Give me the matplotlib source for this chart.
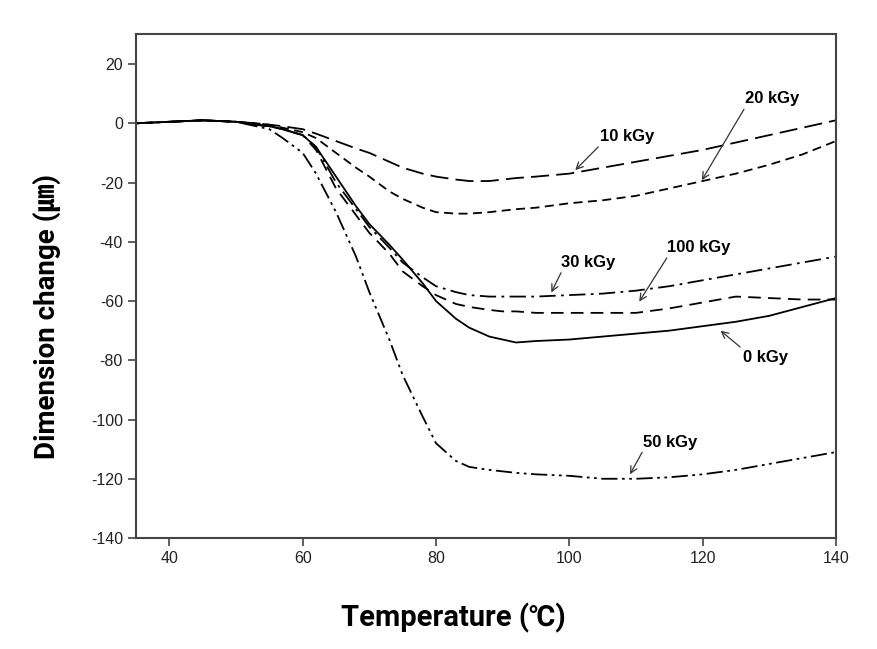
import matplotlib.pyplot as plt
import numpy as np

plt.rcParams['axes.unicode_minus'] = False

# temperatures (C) where each curve was read
temp = [35, 40, 45, 50, 53, 55, 57, 60, 62, 65, 68, 70, 73, 75, 78, 80, 83, 85, 88, 90, 92, 95, 100, 105, 110, 115, 120, 125, 130, 135, 140]

# dimension change (um) per dose
d0 = [0, 0.5, 1, 0.5, -0.5, -1, -2, -4, -8, -18, -28, -34, -41, -46, -54, -60, -66, -69, -72, -73, -74, -73.5, -73, -72, -71, -70, -68.5, -67, -65, -62, -59]
d10 = [0, 0.5, 1, 0.5, 0, -0.5, -1, -2, -3.5, -6, -8.5, -10, -13, -15, -17, -18, -19, -19.5, -19.5, -19, -18.5, -18, -17, -15, -13, -11, -9, -6.5, -4, -1.5, 1]
d20 = [0, 0.5, 1, 0.5, 0, -0.5, -1.5, -3, -5, -10, -15, -18, -23, -25.5, -28.5, -30, -30.5, -30.5, -30, -29.5, -29, -28.5, -27, -26, -24.5, -22, -19.5, -17, -14, -10.5, -6]
d30 = [0, 0.5, 1, 0.5, -0.5, -1, -2, -4, -8, -20, -29, -35, -42, -47, -52, -55, -57, -58, -58.5, -58.5, -58.5, -58.5, -58, -57.5, -56.5, -55, -53, -51, -49, -47, -45]
d50 = [0, 0.5, 1, 0.5, -1, -2, -5, -10, -17, -30, -45, -57, -73, -85, -99, -108, -114, -116, -117, -117.5, -118, -118.5, -119, -120, -120, -119.5, -118.5, -117, -115, -113, -111]
d100 = [0, 0.5, 1, 0.5, -0.5, -1, -2, -4, -9, -22, -31, -37, -44, -50, -55, -58, -61, -62, -63, -63.5, -63.5, -64, -64, -64, -64, -62.5, -60.5, -58.5, -59, -59.5, -59.5]

series = [
    (d0, '-'),
    (d10, (0, (10, 4))),
    (d20, (0, (5, 3))),
    (d30, (0, (9, 3, 1.5, 3))),
    (d50, (0, (9, 2.5, 1.5, 2.5, 1.5, 2.5))),
    (d100, (0, (7, 4))),
]

# label, text left/centre, arrow tip, where the arrow leaves the text
labels = [
    ('0 kGy', (126, -79), (122.7, -70), (0.02, 1.0)),
    ('10 kGy', (104.6, -4.5), (100.9, -15.8), (0.02, 0.0)),
    ('20 kGy', (126.3, 8.2), (119.9, -19.2), (0.02, 0.0)),
    ('30 kGy', (98.8, -47), (97.3, -57.1), (0.02, 0.0)),
    ('50 kGy', (111, -107.6), (109.1, -118.5), (0.02, 0.0)),
    ('100 kGy', (114.7, -42), (110.5, -60.2), (0.02, 0.0)),
]

fig = plt.figure(figsize=(8.78, 6.49), dpi=100)
ax = fig.add_axes([0.155, 0.171, 0.797, 0.776])

for y, ls in series:
    ax.plot(temp, y, color='black', linestyle=ls, linewidth=1.3)

for txt, pos, tip, rp in labels:
    ax.annotate(txt, xy=tip, xytext=pos, ha='left', va='center',
                fontsize=12, fontweight='bold', family=['Liberation Sans', 'DejaVu Sans'],
                arrowprops=dict(arrowstyle='->', color='#333333', lw=0.9,
                                shrinkA=0, shrinkB=0, relpos=rp))

ax.set_xlim(35, 140)
ax.set_ylim(-140, 30)
ax.set_xticks([40, 60, 80, 100, 120, 140])
ax.set_yticks(np.arange(-140, 21, 20))
ax.tick_params(direction='out', length=6, width=1.2, colors='#444444', labelsize=11.5,
               labelcolor='#222222')
for lab in ax.get_xticklabels() + ax.get_yticklabels():
    lab.set_family(['Liberation Sans', 'DejaVu Sans'])
for s in ax.spines.values():
    s.set_color('#444444')
    s.set_linewidth(1.5)

ax.set_xlabel('Temperature (℃)', fontsize=21, fontweight='bold',
              family=['Roboto', 'Noto Sans CJK SC'])
ax.set_ylabel('Dimension change (㎛)', fontsize=20, fontweight='bold',
              family=['Roboto', 'Noto Sans CJK SC'])
ax.xaxis.set_label_coords(0.454, -0.128)
ax.yaxis.set_label_coords(-0.108, 0.44)

plt.savefig('out.png', dpi=100)
